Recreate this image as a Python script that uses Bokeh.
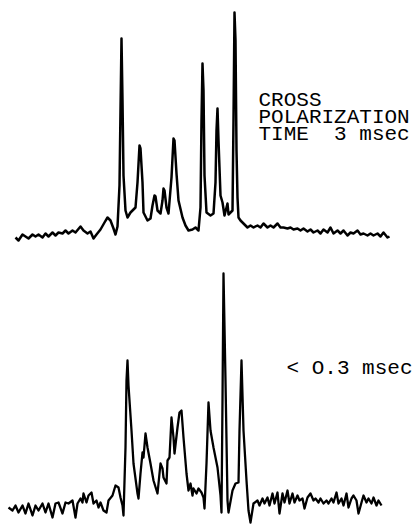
from bokeh.plotting import figure
from bokeh.models import Range1d
from bokeh.core.properties import value
from bokeh.embed import file_html
from bokeh.resources import INLINE

# Upper spectrum (cross polarization time 3 msec): position, intensity
top_pos = [15,18,22,25,28,32,35,38,42,45,
           48,52,55,58,62,65,68,72,75,80,
           83,87,90,93,96,100,104,107,110,113,
           115,117,119,120,121,122,123,125,127,130,
           132,135,137,139,140,142,143,147,150,152,
           154,155,157,160,162,163,164,166,168,171,
           173,174,176,178,182,185,188,192,195,198,
           200,201,202,203,204,206,210,213,215,216,
           217,218,220,222,224,227,228,232,233,234,
           235,236,237,238,240,243,247,250,253,257,
           260,263,267,270,273,277,280,283,287,290,
           293,297,300,303,307,310,313,317,320,323,
           327,330,333,337,340,343,347,350,353,357,
           360,363,367,370,373,377,380,383,387,389]
top_int = [3,0,6,4,2,6,4,6,3,7,
           4,8,5,8,7,10,7,10,8,14,
           10,7,9,2,6,11,18,23,20,12,
           6,14,55,130,202,140,65,30,23,28,
           30,33,58,95,92,58,28,20,22,35,
           45,44,30,27,40,52,50,33,27,63,
           102,100,67,40,23,15,10,11,13,10,
           33,120,177,150,65,28,25,27,58,110,
           132,100,45,38,25,37,26,30,120,228,
           200,90,43,23,20,17,13,15,13,15,
           13,17,13,15,13,17,13,13,12,13,
           11,12,10,12,9,11,8,10,7,11,
           8,13,7,10,7,10,5,8,7,10,
           6,7,5,7,5,7,4,8,3,4]

# Lower spectrum (< 0.3 msec): position, intensity
bot_pos = [8,12,15,18,22,25,28,32,35,38,
           42,45,48,52,55,58,62,65,68,72,
           75,77,80,82,83,86,88,91,93,96,
           98,100,103,106,108,112,115,118,120,122,
           123,125,126,127,128,131,133,137,138,140,
           142,143,145,147,150,153,157,160,162,163,
           166,167,169,171,173,174,177,179,181,183,
           186,188,190,192,193,196,198,201,203,204,
           206,208,210,213,217,220,221,222,223,225,
           227,228,232,235,238,239,241,243,246,248,
           250,253,257,259,262,264,267,269,272,274,
           277,279,282,284,287,289,292,294,297,299,
           302,304,307,310,313,315,318,320,323,326,
           328,331,333,336,338,341,343,346,348,351,
           353,356,358,361,363,366,368,371,373,376,
           378,381]
bot_int = [3,0,5,-2,5,-3,7,-5,5,0,
           7,-2,7,-7,7,8,-3,8,7,10,
           -7,7,12,8,17,8,15,18,7,10,
           3,8,0,-2,10,15,25,23,13,5,
           -5,63,130,150,125,80,47,17,12,37,
           58,53,77,63,47,30,17,47,42,33,
           27,50,53,93,73,57,83,98,100,73,
           37,20,27,15,22,17,22,18,13,2,
           47,108,80,63,43,15,-2,110,237,130,
           10,-2,20,27,28,80,150,80,30,0,
           -12,7,10,5,12,7,13,5,17,7,
           18,-3,17,8,20,7,17,8,15,10,
           12,2,13,17,10,12,8,12,7,10,
           7,12,8,18,7,12,5,17,3,12,
           15,10,-3,8,15,8,12,7,13,5,
           10,5]

top_offset = 286
bot_offset = 16

NB = "\u00a0"
top_labels = ["CROSS", "POLARIZATION", "TIME" + NB + NB + "3" + NB + "msec"]
top_label_y = [426, 409, 392]
bot_labels = ["<" + NB + "O.3" + NB + "msec"]
bot_label_y = [158]

p = figure(width=417, height=526, output_backend="svg", toolbar_location=None,
           x_range=Range1d(0, 417), y_range=Range1d(0, 526),
           min_border=0, min_border_left=0, min_border_right=0,
           min_border_top=0, min_border_bottom=0)
p.xaxis.visible = False
p.yaxis.visible = False
p.grid.visible = False
p.outline_line_color = None
p.background_fill_color = "white"
p.border_fill_color = "white"

p.line(top_pos, [top_offset + v for v in top_int], line_color="black",
       line_width=2.5, line_join="round")
p.line(bot_pos, [bot_offset + v for v in bot_int], line_color="black",
       line_width=2.3, line_join="round")

p.text(x=[258] * len(top_labels), y=top_label_y, text=top_labels,
       text_font=value("Liberation Mono"), text_font_size="21px",
       text_color="black", text_baseline="alphabetic", text_align="left")
p.text(x=[286] * len(bot_labels), y=bot_label_y, text=bot_labels,
       text_font=value("Liberation Mono"), text_font_size="21px",
       text_color="black", text_baseline="alphabetic", text_align="left")

open("out.html", "w").write(file_html(p, INLINE))
